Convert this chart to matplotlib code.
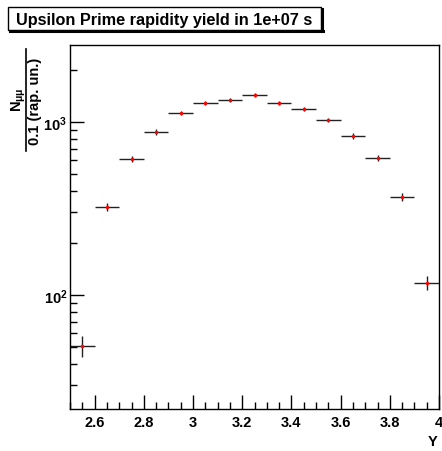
import numpy as np
import matplotlib.pyplot as plt
from matplotlib.patches import Rectangle
from matplotlib.ticker import LogLocator, NullFormatter, MultipleLocator

plt.rcParams['font.family'] = ['Liberation Sans', 'DejaVu Sans']
plt.rcParams['mathtext.fontset'] = 'custom'
plt.rcParams['mathtext.rm'] = 'Liberation Sans:bold'
plt.rcParams['mathtext.bf'] = 'Liberation Sans:bold'
plt.rcParams['mathtext.it'] = 'Liberation Sans:bold'

# rapidity bin centres and yields per 0.1 rapidity unit
rap_centres = [2.55, 2.65, 2.75, 2.85, 2.95, 3.05, 3.15, 3.25,
               3.35, 3.45, 3.55, 3.65, 3.75, 3.85, 3.95]
yields = [51, 323, 611, 875, 1127, 1288, 1340, 1432,
          1288, 1189, 1027, 830, 619, 368, 117]
bin_half_width = 0.05

x = np.array(rap_centres)
y = np.array(yields, dtype=float)
yerr = np.sqrt(y)

W, H = 442, 452
fig = plt.figure(figsize=(W / 100, H / 100), dpi=100)
ax = fig.add_axes([70 / W, 1 - 410 / H, 369 / W, 364 / H])


def fx(px):
    return px / W


def fy(py):
    return 1 - py / H


ax.errorbar(x, y, xerr=bin_half_width, yerr=yerr, fmt='none',
            ecolor='#222222', elinewidth=1.0, capsize=0)
ax.plot(x, y, 'o', color='red', markersize=2.5, markeredgewidth=0)

ax.set_yscale('log')
ax.set_xlim(2.5, 4.0)
ax.set_ylim(21.9, 2786)

ax.xaxis.set_minor_locator(MultipleLocator(0.05))
ax.yaxis.set_minor_locator(LogLocator(base=10, subs=np.arange(2, 10)))
ax.yaxis.set_minor_formatter(NullFormatter())
ax.set_xticks([2.6, 2.8, 3.0, 3.2, 3.4, 3.6, 3.8, 4.0])
ax.set_xticklabels(['2.6', '2.8', '3', '3.2', '3.4', '3.6', '3.8', '4'])
ax.set_yticks([100, 1000])
ax.set_yticklabels([r'$10^{2}$', r'$10^{3}$'])

ax.tick_params(which='both', direction='in', top=False, right=False,
               labelsize=10.5, width=1.0, color='black')
ax.tick_params(which='major', length=10)
ax.tick_params(which='minor', length=5)
ax.tick_params(axis='x', which='major', pad=4)
ax.tick_params(axis='y', which='major', pad=2)
for lbl in ax.get_xticklabels() + ax.get_yticklabels():
    lbl.set_fontweight('bold')
for sp in ax.spines.values():
    sp.set_linewidth(1.0)

fig.text(fx(433), fy(442), 'Y', ha='center', va='center',
         fontsize=10.5, fontweight='bold')

# y-axis title drawn as a fraction: N_mumu over 0.1 (rap. un.)
fig.text(fx(19), fy(100), r'N$_{\mu\mu}$', rotation=90, ha='center',
         va='center', fontsize=10.5, fontweight='bold')
fig.text(fx(35), fy(101), '0.1 (rap. un.)', rotation=90, ha='center',
         va='center', fontsize=10.5, fontweight='bold')
fig.add_artist(plt.Line2D([fx(26), fx(26)], [fy(152), fy(50)],
                          color='black', linewidth=1.2))

# title box with drop shadow
fig.add_artist(plt.Line2D([fx(10), fx(323)], [fy(32), fy(32)],
                          color='black', linewidth=2.2))
fig.add_artist(plt.Line2D([fx(322), fx(322)], [fy(32), fy(10)],
                          color='black', linewidth=2.2))
fig.add_artist(Rectangle((fx(8), fy(31)), fx(313), (31 - 8) / H,
                         facecolor='white', edgecolor='black',
                         linewidth=1.0, transform=fig.transFigure))
fig.text(fx(16), fy(20), 'Upsilon Prime rapidity yield in 1e+07 s',
         ha='left', va='center', fontsize=11.7, fontweight='bold')

fig.savefig('out.png', dpi=100)
